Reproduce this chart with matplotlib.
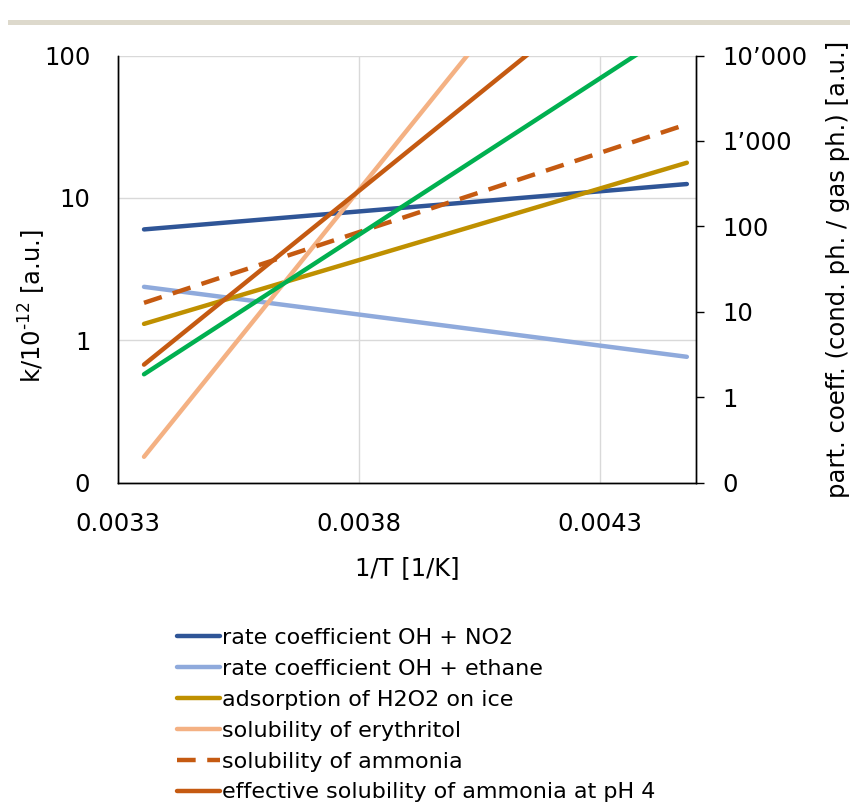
import matplotlib
matplotlib.use("Agg")
import matplotlib.pyplot as plt
from matplotlib.patches import Rectangle
from matplotlib.ticker import FixedLocator, NullLocator

# 1/T at 298 K and 223 K
inv_T = [0.003354, 0.004481]

# left axis: k/10^-12
k_oh_no2 = [6.0, 12.5]
k_oh_ethane = [2.37, 0.764]

# right axis: partition coefficients
h2o2_ice = [7.2, 555]
erythritol = [0.20, 1.56e7]
ammonia = [12.7, 1565]
ammonia_ph4 = [2.4, 3.3e5]
green_series = [1.85, 2.47e4]

x_ticks = [0.0033, 0.0038, 0.0043]
x_tick_labels = ["0.0033", "0.0038", "0.0043"]
left_ticks = [0.1, 1, 10, 100]
left_tick_labels = ["0", "1", "10", "100"]
right_ticks = [0.1, 1, 10, 100, 1000, 10000]
right_tick_labels = ["0", "1", "10", "100", "1\u2019000", "10\u2019000"]

W, H = 850, 807
fig = plt.figure(figsize=(W / 100, H / 100), dpi=100)
ax = fig.add_axes([118 / W, 1 - 482.5 / H, 578 / W, 427 / H])
ax2 = ax.twinx()

lw = 3.2
ax.plot(inv_T, k_oh_no2, color="#2F5597", lw=lw, solid_capstyle="round",
        label="rate coefficient OH + NO2")
ax.plot(inv_T, k_oh_ethane, color="#8FAADC", lw=lw, solid_capstyle="round",
        label="rate coefficient OH + ethane")
ax2.plot(inv_T, h2o2_ice, color="#BF9000", lw=lw, solid_capstyle="round",
         label="adsorption of H2O2 on ice")
ax2.plot(inv_T, erythritol, color="#F4B183", lw=lw, solid_capstyle="round",
         label="solubility of erythritol")
ax2.plot(inv_T, ammonia, color="#C55A11", lw=lw, dashes=(4.2, 2.6),
         label="solubility of ammonia")
ax2.plot(inv_T, ammonia_ph4, color="#C55A11", lw=lw, solid_capstyle="round",
         label="effective solubility of ammonia at pH 4")
ax2.plot(inv_T, green_series, color="#00B050", lw=lw, solid_capstyle="round")

ax.set_xlim(0.0033, 0.0045)
ax.set_yscale("log")
ax.set_ylim(0.1, 100)
ax2.set_yscale("log")
ax2.set_ylim(0.1, 10000)

ax.xaxis.set_major_locator(FixedLocator(x_ticks))
ax.set_xticklabels(x_tick_labels)
ax.yaxis.set_major_locator(FixedLocator(left_ticks))
ax.set_yticklabels(left_tick_labels)
ax.yaxis.set_minor_locator(NullLocator())
ax2.yaxis.set_major_locator(FixedLocator(right_ticks))
ax2.set_yticklabels(right_tick_labels)
ax2.yaxis.set_minor_locator(NullLocator())

fs = 17.5
ax.tick_params(axis="x", length=0, pad=21, labelsize=fs)
ax.tick_params(axis="y", length=0, pad=20, labelsize=fs)
ax2.tick_params(axis="y", direction="out", length=5.8, width=1, pad=13,
                labelsize=fs, color="black")

ax.grid(True, color="#D9D9D9", lw=1)
ax.set_axisbelow(True)
for a in (ax, ax2):
    a.spines["top"].set_visible(False)
    for s in ("left", "right", "bottom"):
        a.spines[s].set_color("black")
        a.spines[s].set_linewidth(1)

ax.set_xlabel("1/T [1/K]", fontsize=fs)
ax.xaxis.set_label_coords(0.5, (482.5 - 568) / 427)
ax.xaxis.label.set_va("center")
ax.set_ylabel(r"k/10$^{\mathregular{\text{-}12}}$ [a.u.]", fontsize=fs)
ax.yaxis.set_label_coords((32 - 118) / 578, (482.5 - 306) / 427)
ax.yaxis.label.set_va("center")
ax2.set_ylabel("part. coeff. (cond. ph. / gas ph.) [a.u.]", fontsize=fs)
ax2.yaxis.set_label_coords((838 - 118) / 578, 0.5)
ax2.yaxis.label.set_va("center")

handles = ax.get_legend_handles_labels()[0] + ax2.get_legend_handles_labels()[0][:4]
fig.legend(handles=handles, loc="upper left",
           bbox_to_anchor=(177 / W, 1 - 628 / H), bbox_transform=fig.transFigure,
           frameon=False, fontsize=16, handlelength=1.95, handletextpad=0.08,
           labelspacing=0.49, borderpad=0, borderaxespad=0)

fig.add_artist(Rectangle((8 / W, 1 - 25 / H), 1, 5 / H, color="#DDD9CC",
                         transform=fig.transFigure, lw=0))

fig.savefig("out.png", dpi=100)
